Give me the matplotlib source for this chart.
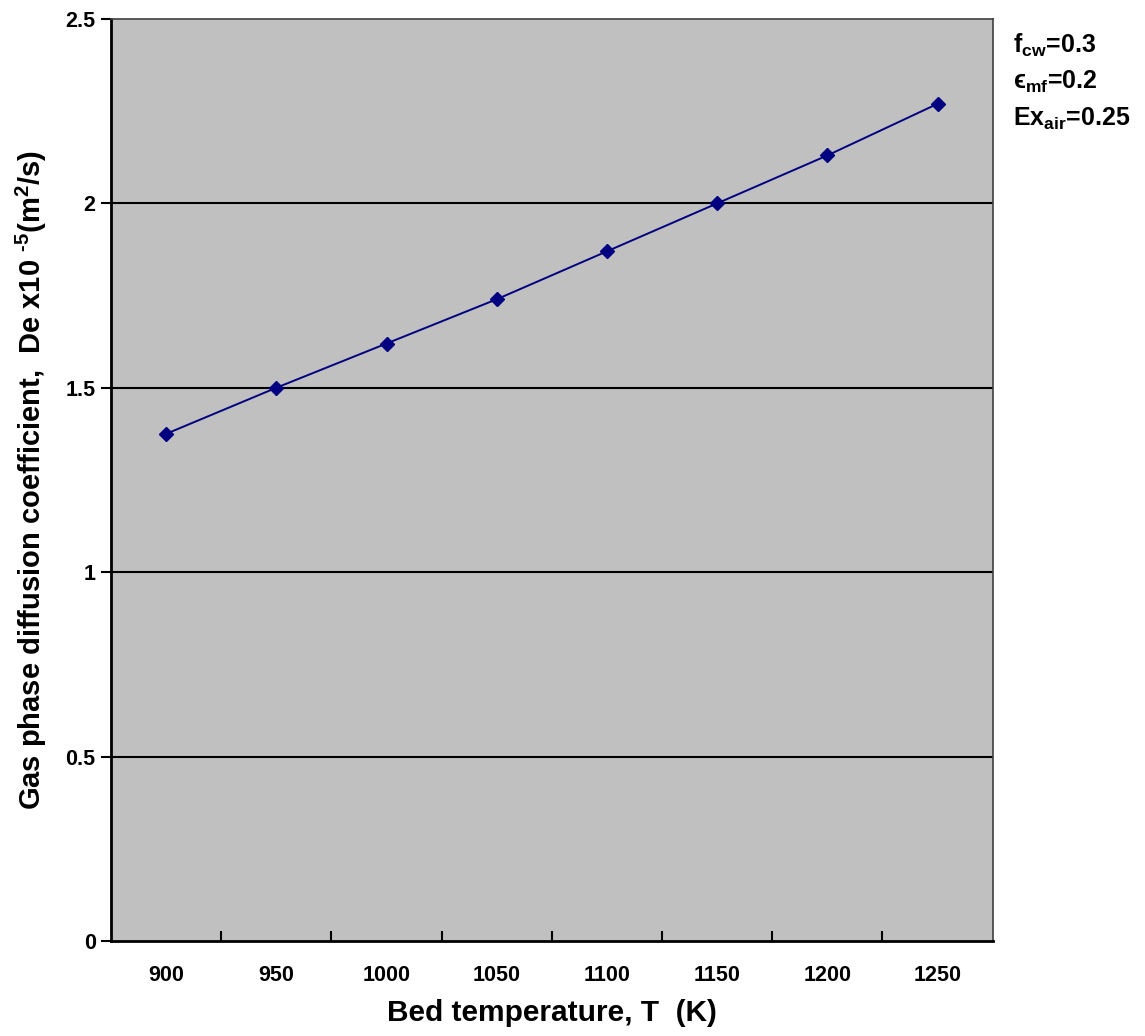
import matplotlib
matplotlib.use("Agg")
import matplotlib.pyplot as plt

plt.rcParams['font.family'] = ['Liberation Sans', 'DejaVu Sans']
plt.rcParams['font.weight'] = 'bold'
plt.rcParams['mathtext.fontset'] = 'custom'
plt.rcParams['mathtext.rm'] = 'Liberation Sans:bold'
plt.rcParams['mathtext.it'] = 'Liberation Sans:bold'
plt.rcParams['mathtext.bf'] = 'Liberation Sans:bold'
plt.rcParams['mathtext.default'] = 'rm'

# Bed temperature (K) and effective gas-phase diffusion coefficient (x1e-5 m2/s)
temperatures = [900, 950, 1000, 1050, 1100, 1150, 1200, 1250]
diffusivity = [1.375, 1.50, 1.62, 1.74, 1.87, 2.00, 2.13, 2.27]
y_ticks = [0, 0.5, 1, 1.5, 2, 2.5]
y_tick_labels = ['0', '0.5', '1', '1.5', '2', '2.5']
params = ['f$_{\\mathrm{cw}}$=0.3', 'ϵ$_{\\mathrm{mf}}$=0.2', 'Ex$_{\\mathrm{air}}$=0.25']

fig = plt.figure(figsize=(11.45, 10.36), dpi=100)
ax = fig.add_axes([0.0969, 0.0917, 0.867 - 0.0969, 0.9817 - 0.0917])
ax.set_facecolor('#c0c0c0')

idx = list(range(len(temperatures)))
ax.plot(idx, diffusivity, color='#000080', lw=1.4, marker='D', ms=7.5,
        mfc='#000080', mec='#000080', zorder=3)

ax.set_xlim(-0.5, len(temperatures) - 0.5)
ax.set_ylim(0, 2.5)

# horizontal gridlines
for v in y_ticks[1:-1]:
    ax.axhline(v, color='black', lw=1.5, zorder=1)

ax.set_yticks(y_ticks)
ax.set_yticklabels(y_tick_labels, fontsize=15.5, fontweight='bold')
ax.tick_params(axis='y', direction='out', length=7, width=1.5, pad=4)

# category axis: labels at centres, ticks at boundaries
ax.set_xticks(idx)
ax.set_xticklabels([str(t) for t in temperatures], fontsize=15.5, fontweight='bold')
ax.tick_params(axis='x', which='major', length=0, pad=17)
ax.set_xticks([i - 0.5 for i in range(1, len(temperatures))], minor=True)
ax.tick_params(axis='x', which='minor', direction='in', length=7, width=1.5)

for side in ['top', 'right']:
    ax.spines[side].set_color('#404040')
    ax.spines[side].set_linewidth(1.2)
for side in ['left', 'bottom']:
    ax.spines[side].set_color('black')
    ax.spines[side].set_linewidth(2)

ax.set_xlabel('Bed temperature, T  (K)', fontsize=21.5, fontweight='bold', labelpad=10)
ax.set_ylabel('Gas phase diffusion coefficient,  De x10 $^{\\text{-5}}$(m$^{2}$/s)',
              fontsize=21, fontweight='bold', labelpad=12)

for i, s in enumerate(params):
    fig.text(1013 / 1145, 1 - (45 + 37 * i) / 1036, s, fontsize=18,
             fontweight='bold', va='center', ha='left')

fig.savefig('out.png', dpi=100)
